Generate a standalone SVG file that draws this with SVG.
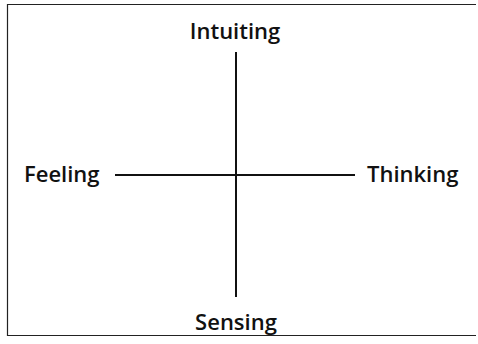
<svg xmlns="http://www.w3.org/2000/svg" width="478" height="344" viewBox="0 0 478 344">
<style>
.lbl{font-family:"Open Sans","Liberation Sans",sans-serif;font-weight:600;font-size:22px;fill:#111}
.ax{stroke:#111;stroke-width:2;fill:none}
</style>
<rect x="0" y="0" width="478" height="344" fill="#fff"/>
<path d="M7.5,336 V4.5 H476" stroke="#222" stroke-width="1.2" fill="none"/>
<path d="M7.5,335.5 H476" stroke="#222" stroke-width="1.2" fill="none"/>
<g id="connectors">
<line class="ax" x1="236" y1="52" x2="236" y2="297"/>
<line class="ax" x1="115" y1="175" x2="355" y2="175"/>
</g>
<g id="intuiting"><text class="lbl" x="235" y="39" text-anchor="middle">Intuiting</text></g>
<g id="feeling"><text class="lbl" x="24" y="182">Feeling</text></g>
<g id="thinking"><text class="lbl" x="367" y="182">Thinking</text></g>
<g id="sensing"><text class="lbl" x="236" y="330" text-anchor="middle">Sensing</text></g>
</svg>
